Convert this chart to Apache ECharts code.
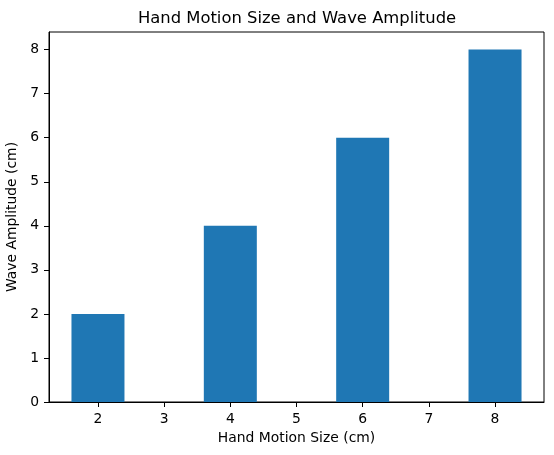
<!DOCTYPE html>
<html>
<head>
<meta charset="utf-8">
<script src="https://cdn.jsdelivr.net/npm/echarts@6/dist/echarts.min.js"></script>
<style>
  html, body { margin: 0; padding: 0; background: #fff; }
  #chart { width: 554px; height: 455px; }
</style>
</head>
<body>
<div id="chart"></div>
<script>
    // data
    var handSizes = [2, 4, 6, 8];
    var amplitudes = [2, 4, 6, 8];
    var xTicks = [2, 3, 4, 5, 6, 7, 8];
    var yTicks = [0, 1, 2, 3, 4, 5, 6, 7, 8];

    var FONT = 'DejaVu Sans';
    var barData = [];
    for (var i = 0; i < handSizes.length; i++) {
        barData.push([handSizes[i], amplitudes[i]]);
    }

    var chart = echarts.init(document.getElementById('chart'), null, {renderer: 'canvas'});
    var option = {
        backgroundColor: '#fff',
        animation: false,
        title: {
            text: 'Hand Motion Size and Wave Amplitude',
            left: 292,
            top: 6,
            textAlign: 'center',
            textStyle: {fontFamily: FONT, fontSize: 16.4, fontWeight: 'normal', color: '#000'}
        },
        grid: {
            left: 49,
            right: 10,
            top: 32,
            bottom: 53,
            containLabel: false,
            outerBoundsMode: 'none',
            show: true,
            borderColor: '#000',
            borderWidth: 1,
            backgroundColor: 'transparent'
        },
        xAxis: {
            type: 'value',
            min: 1.26,
            max: 8.74,
            name: 'Hand Motion Size (cm)',
            nameLocation: 'middle',
            nameGap: 29,
            nameTextStyle: {fontFamily: FONT, fontSize: 13.9, color: '#000'},
            axisLine: {show: true, onZero: false, lineStyle: {color: '#000', width: 1}},
            axisTick: {show: true, length: 5, customValues: xTicks, lineStyle: {color: '#000'}},
            axisLabel: {customValues: xTicks, margin: 10, fontFamily: FONT, fontSize: 13.9, color: '#000'},
            splitLine: {show: false}
        },
        yAxis: {
            type: 'value',
            min: 0,
            max: 8.4,
            name: 'Wave Amplitude (cm)',
            nameLocation: 'middle',
            nameGap: 30,
            nameTextStyle: {fontFamily: FONT, fontSize: 13.9, color: '#000'},
            axisLine: {show: true, lineStyle: {color: '#000', width: 1}},
            axisTick: {show: true, length: 5, customValues: yTicks, lineStyle: {color: '#000'}},
            axisLabel: {customValues: yTicks, margin: 10, fontFamily: FONT, fontSize: 13.9, color: '#000'},
            splitLine: {show: false}
        },
        series: [
            {
                type: 'bar',
                data: barData,
                barWidth: 53,
                itemStyle: {color: '#1f77b4'}
            }
        ]
    };
    chart.setOption(option);
</script>
</body>
</html>
